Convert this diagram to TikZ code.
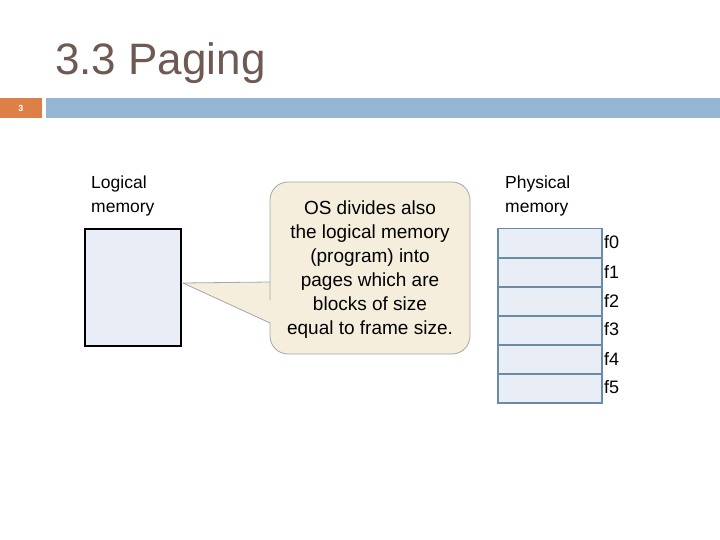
\documentclass[tikz,border=0pt]{standalone}
\usepackage{fontspec}
\setmainfont{Liberation Sans}
\definecolor{orangebar}{HTML}{DD8047}
\definecolor{bluebar}{HTML}{94B6D2}
\definecolor{memfill}{HTML}{E9EDF5}
\definecolor{frameborder}{HTML}{6A8BA8}
\definecolor{callfill}{HTML}{F5EEDD}
\definecolor{titlec}{HTML}{6E5A52}
\begin{document}
\begin{tikzpicture}[x=1pt,y=-1pt,
  lbl/.style={font=\fontsize{17.5}{24}\selectfont, align=left, anchor=north west, inner sep=0pt},
  frm/.style={draw=frameborder, line width=1.5pt, fill=memfill},
  flab/.style={font=\fontsize{18}{20}\selectfont, anchor=west, inner sep=0pt}]
\useasboundingbox (0,0) rectangle (720,540);
\node[anchor=base west, inner sep=0pt, text=titlec, font=\fontsize{44}{48}\selectfont] (title) at (55,75) {3.3 Paging};
\fill[orangebar] (0,98) rectangle (42,118);
\fill[bluebar] (46,98) rectangle (720,118);
\node[text=white, font=\fontsize{9}{10}\selectfont\bfseries] (num) at (21,108) {3};
\node[lbl] (ll) at (91,176) {Logical\\memory};
\node[lbl] (pl) at (505,176) {Physical\\memory};
\node[draw=black, line width=2pt, fill=memfill, minimum width=96pt, minimum height=117pt, anchor=north west, inner sep=0pt] (lm) at (84,228) {};
\foreach \i/\y in {0/228,1/257,2/286,3/315,4/344,5/373}{
  \node[frm, minimum width=104pt, minimum height=29pt, anchor=north west, inner sep=0pt] (f\i) at (497,\y) {};
  \node[flab] (t\i) at (604,\y+14.5) {f\i};
}
\draw[draw=gray!70, fill=callfill, line width=0.8pt]
  (270,300) [rounded corners=18pt] -- (270,182) -- (470,182) -- (470,354) -- (270,354) [sharp corners] -- (270,323) -- (183,283) -- (270,282) -- cycle;
\node[align=center, font=\fontsize{19}{24}\selectfont, inner sep=0pt] (call) at (370,270)
  {OS divides also\\the logical memory\\(program) into\\pages which are\\blocks of size\\equal to frame size.};
\end{tikzpicture}
\end{document}
